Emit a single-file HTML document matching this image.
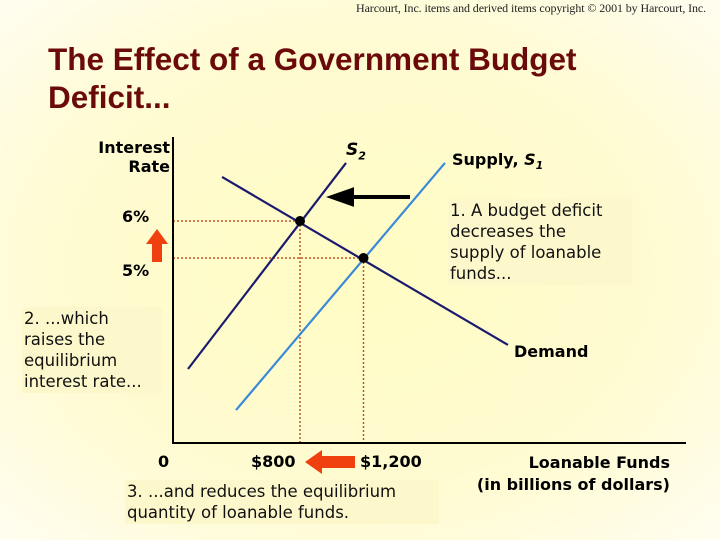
<!DOCTYPE html>
<html><head><meta charset="utf-8"><style>
body{margin:0;width:720px;height:540px;overflow:hidden;background:radial-gradient(ellipse at 50% 50%,#fffcc4 0%,#fffbd2 60%,#fffdf0 100%);font-family:"DejaVu Sans","Liberation Sans",sans-serif;position:relative}
.t{position:absolute;white-space:nowrap}
.box{position:absolute;background:#fdf8cc;font-size:16.5px;line-height:21px;color:#111}
</style></head><body>
<div class="t" style="left:356px;top:1px;font:12px 'Liberation Serif',serif;color:#222;letter-spacing:-0.1px">Harcourt, Inc. items and derived items copyright © 2001 by Harcourt, Inc.</div>
<div class="t" style="left:48px;top:40px;font:bold 31.5px/38px 'Liberation Sans',sans-serif;color:#6b0a0a">The Effect of a Government Budget<br>Deficit...</div>
<svg width="720" height="540" style="position:absolute;left:0;top:0">
<g id="g"></g>
</svg>
<div class="t" style="left:88px;top:138px;font:bold 16px/19px 'DejaVu Sans',sans-serif;text-align:right;width:82px">Interest<br>Rate</div>
<div class="t" style="left:346px;top:140px;font:italic bold 17px 'DejaVu Sans',sans-serif">S<sub style="font-size:11px">2</sub></div>
<div class="t" style="left:452px;top:150px;font:bold 16px 'DejaVu Sans',sans-serif">Supply, <i>S<sub style="font-size:11px">1</sub></i></div>
<div class="t" style="left:122px;top:207px;font:bold 16px 'DejaVu Sans',sans-serif">6%</div>
<div class="t" style="left:122px;top:261px;font:bold 16px 'DejaVu Sans',sans-serif">5%</div>
<div class="box" style="left:448px;top:199px;width:180px;padding:1px 2px">1. A budget deficit<br>decreases the<br>supply of loanable<br>funds...</div>
<div class="box" style="left:22px;top:307px;width:136px;padding:1px 2px">2. ...which<br>raises the<br>equilibrium<br>interest rate...</div>
<div class="box" style="left:125px;top:480px;width:310px;padding:1px 2px">3. ...and reduces the equilibrium<br>quantity of loanable funds.</div>
<div class="t" style="left:514px;top:342px;font:bold 16px 'DejaVu Sans',sans-serif">Demand</div>
<div class="t" style="left:158px;top:452px;font:bold 16px 'DejaVu Sans',sans-serif">0</div>
<div class="t" style="left:251px;top:452px;font:bold 16px 'DejaVu Sans',sans-serif">$800</div>
<div class="t" style="left:360px;top:452px;font:bold 16px 'DejaVu Sans',sans-serif">$1,200</div>
<div class="t" style="left:455px;top:452px;font:bold 16px/22px 'DejaVu Sans',sans-serif;text-align:right;width:215px">Loanable Funds<br>(in billions of dollars)</div>
<script>
const qTicks=[800,1200];
const rTicks=[6,5];
const s2Line=[[94.5,2.0],[1090,7.57]];
const s1Line=[[397,0.89],[1713,7.57]];
const demandLine=[[309,7.19],[2110,2.65]];
const equilibria=[[800,6],[1200,5]];
const X=q=>173+q*0.15875, Y=r=>443-r*37;
const g=document.getElementById('g'),NS='http://www.w3.org/2000/svg';
function mk(t,a){const e=document.createElementNS(NS,t);for(const k in a)e.setAttribute(k,a[k]);g.appendChild(e);return e;}
equilibria.forEach(p=>{
 let e=mk('line',{x1:X(0),y1:Y(p[1]),x2:X(p[0]),y2:Y(p[1]),stroke:'#c0552a','stroke-width':1.5,'stroke-dasharray':'2,2'});
 
 
 e=mk('line',{x1:X(p[0]),y1:Y(p[1]),x2:X(p[0]),y2:Y(0),stroke:'#c0552a','stroke-width':1.5,'stroke-dasharray':'2,2'});
 
 
});
[[s2Line,'#1a1a6e','s2-line'],[s1Line,'#3a8ad8','s1-line'],[demandLine,'#1a1a6e','demand-line']].forEach(([l,c,n])=>{
 const e=mk('line',{x1:X(l[0][0]),y1:Y(l[0][1]),x2:X(l[1][0]),y2:Y(l[1][1]),stroke:c,'stroke-width':2.2});
 
 
});
let ax=mk('path',{d:`M${X(0)} 137 V${Y(0)} H686`,fill:'none',stroke:'#000','stroke-width':2});


equilibria.forEach(p=>{
 const e=mk('circle',{cx:X(p[0]),cy:Y(p[1]),r:5,fill:'#000'});
 
 
});
let a=mk('path',{d:'M410 197 H350 M352 190 L332 197 L352 204 Z',stroke:'#000','stroke-width':4,fill:'#000'});


a=mk('path',{d:'M152 262 V244 H146 L157 229 L168 244 H162 V262 Z',fill:'#f04010'});


a=mk('path',{d:'M355 456 H322 V450 L305 462 L322 474 V468 H355 Z',fill:'#f04010'});


</script>
</body></html>
